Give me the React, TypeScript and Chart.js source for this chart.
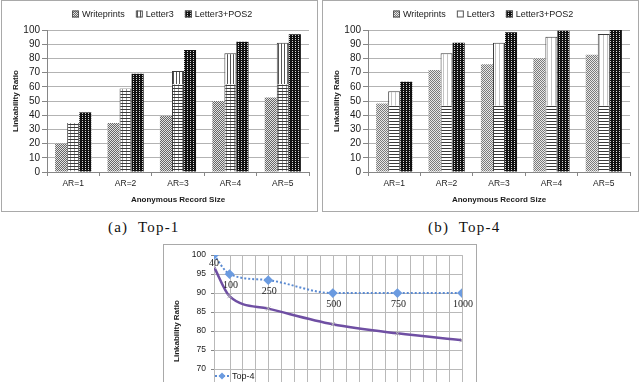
import React, { useEffect, useRef } from "react";
import { Chart, registerables } from "chart.js";
Chart.register(...registerables);

// ---------- data ----------
const categories = ["AR=1", "AR=2", "AR=3", "AR=4", "AR=5"];
const seriesNames = ["Writeprints", "Letter3", "Letter3+POS2"];

const top1Writeprints = [20, 34.5, 39.5, 50, 52.5];
const top1Letter3 = [34.5, 58.8, 71.2, 83.6, 91.1];
const top1Letter3Pos2 = [42, 69.2, 86, 91.8, 97];
const top1Letter3ShadeLevel = 61.8;

const top4Writeprints = [48.2, 71.9, 75.9, 80.1, 82.6];
const top4Letter3 = [56.9, 83.6, 91.1, 95.3, 97.2];
const top4Letter3Pos2 = [63.5, 91.1, 98.4, 99.5, 100];
const top4Letter3ShadeLevel = 46.6;

const recordSizes = [40, 100, 250, 500, 750, 1000];
const top4Line = [100, 95, 93.4, 90, 90, 90];
const top1Line = [96.9, 89.2, 85.9, 81.8, 79.4, 77.6];
const lineNames = ["Top-4", "Top-1"];
const xGridValues = [40, 100, 150, 200, 250, 300, 350, 400, 450, 500, 550, 600, 650, 700, 750, 800, 850, 900, 950, 1000];

const SANS = '"Liberation Sans", Arial, sans-serif';

type Ctx = CanvasRenderingContext2D;

function makePattern(ctx: Ctx, w: number, h: number, draw: (t: Ctx) => void) {
  const c = document.createElement("canvas");
  c.width = w;
  c.height = h;
  const t = c.getContext("2d")!;
  draw(t);
  return ctx.createPattern(c, "repeat")!;
}

function px(t: Ctx, x: number, y: number, color: string) {
  t.fillStyle = color;
  t.fillRect(x, y, 1, 1);
}

function buildPatterns(ctx: Ctx, variant: "a" | "b") {
  const writeprints = makePattern(ctx, 4, 4, (t) => {
    t.fillStyle = variant === "a" ? "#e2e2e2" : "#e8e8e8";
    t.fillRect(0, 0, 4, 4);
    for (let y = 0; y < 4; y++)
      for (let x = 0; x < 4; x++)
        if ((x + y) % 2 === 0) px(t, x, y, variant === "a" ? "#666" : "#7a7a7a");
  });
  const lower = makePattern(ctx, 4, 3, (t) => {
    t.fillStyle = "#fff";
    t.fillRect(0, 0, 4, 3);
    if (variant === "a") {
      t.fillStyle = "#9a9a9a";
      t.fillRect(0, 0, 1, 3);
    }
    t.fillStyle = "#3a3a3a";
    t.fillRect(0, 0, 4, 1);
  });
  const upper = makePattern(ctx, variant === "a" ? 3 : 4, 1, (t) => {
    t.fillStyle = "#fff";
    t.fillRect(0, 0, 4, 1);
    t.fillStyle = variant === "a" ? "#555" : "#c4c4c4";
    t.fillRect(0, 0, 1, 1);
  });
  const pos2 = makePattern(ctx, 3, 2, (t) => {
    t.fillStyle = "#111";
    t.fillRect(0, 0, 3, 2);
    px(t, 2, 0, "#d8d8d8");
  });
  const legendLetter3 =
    variant === "a"
      ? upper
      : makePattern(ctx, 1, 1, (t) => {
          t.fillStyle = "#fff";
          t.fillRect(0, 0, 1, 1);
        });
  return { writeprints, lower, upper, pos2, legendLetter3 };
}

function barLegendPlugin(fills: (CanvasPattern | string)[], centerX: number, y: number) {
  return {
    id: "barLegend",
    afterDraw(chart: any) {
      const ctx: Ctx = chart.ctx;
      ctx.save();
      ctx.font = `9px ${SANS}`;
      ctx.textBaseline = "middle";
      const widths = seriesNames.map((s) => ctx.measureText(s).width);
      const box = 7;
      const gapText = 3;
      const gapItem = 11;
      const total = widths.reduce((a, w) => a + box + gapText + w, 0) + gapItem * (seriesNames.length - 1);
      let x = Math.round(centerX - total / 2);
      seriesNames.forEach((name, i) => {
        ctx.fillStyle = fills[i];
        ctx.fillRect(x, y - box / 2, box, box);
        ctx.strokeStyle = "#555";
        ctx.lineWidth = 1;
        ctx.strokeRect(x + 0.5, y - box / 2 + 0.5, box - 1, box - 1);
        ctx.fillStyle = "#1a1a1a";
        ctx.fillText(name, x + box + gapText, y + 0.5);
        x += box + gapText + widths[i] + gapItem;
      });
      ctx.restore();
    },
  };
}

function makeBarChart(
  canvas: HTMLCanvasElement,
  variant: "a" | "b",
  w: number[],
  l3: number[],
  p2: number[],
  shade: number
) {
  const ctx = canvas.getContext("2d")!;
  const p = buildPatterns(ctx, variant);
  const l3Lower = l3.map((v) => Math.min(v, shade));
  const l3Upper = l3.map((v, i) => v - l3Lower[i]);
  return new Chart(canvas, {
    type: "bar",
    data: {
      labels: categories,
      datasets: [
        { label: seriesNames[0], data: w, stack: "s1", backgroundColor: p.writeprints, borderWidth: 0 },
        {
          label: seriesNames[1] + " (lower)",
          data: l3Lower,
          stack: "s2",
          backgroundColor: p.lower,
          borderColor: "#3a3a3a",
          borderWidth: { left: 1, right: 1, top: 0, bottom: 0 },
        },
        {
          label: seriesNames[1],
          data: l3Upper,
          stack: "s2",
          backgroundColor: p.upper,
          borderColor: "#3a3a3a",
          borderWidth: { left: 1, right: 1, top: 1, bottom: 0 },
        },
        { label: seriesNames[2], data: p2, stack: "s3", backgroundColor: p.pos2, borderWidth: 0 },
      ],
    },
    options: {
      responsive: false,
      animation: false,
      devicePixelRatio: 1,
      events: [],
      categoryPercentage: 0.69,
      barPercentage: 1.0,
      layout: { padding: { top: 29, right: 8, left: 0, bottom: 0 } },
      plugins: { legend: { display: false }, tooltip: { enabled: false }, title: { display: false } },
      scales: {
        x: {
          stacked: true,
          afterFit: (s: any) => {
            s.height = 39;
          },
          grid: {
            display: true,
            drawOnChartArea: false,
            offset: true,
            tickLength: 4,
            tickColor: "#868686",
          },
          border: { color: "#868686" },
          ticks: { font: { family: SANS, size: 8.5 }, color: "#1a1a1a", padding: 3, maxRotation: 0, autoSkip: false },
          title: {
            display: true,
            text: "Anonymous Record Size",
            font: { family: SANS, size: 8, weight: "bold" },
            color: "#1a1a1a",
            padding: { top: 0, bottom: 6 },
          },
        },
        y: {
          stacked: true,
          min: 0,
          max: 100,
          afterFit: (s: any) => {
            s.width = 45;
          },
          ticks: { stepSize: 10, autoSkip: false, font: { family: SANS, size: 10 }, color: "#1a1a1a", padding: 2 },
          grid: { color: "#b3b3b3", tickColor: "#868686", tickLength: 5 },
          border: { color: "#868686" },
          title: {
            display: true,
            text: "Linkability Ratio",
            font: { family: SANS, size: 8, weight: "bold" },
            color: "#1a1a1a",
            padding: { top: 9, bottom: 0 },
          },
        },
      },
    },
    plugins: [barLegendPlugin([p.writeprints, p.legendLetter3, p.pos2], 160, 13)],
  } as any);
}

const lineLabelPlugin = {
  id: "lineLabels",
  afterDatasetsDraw(chart: any) {
    const ctx: Ctx = chart.ctx;
    const meta = chart.getDatasetMeta(0);
    ctx.save();
    ctx.font = '10px "Liberation Serif", serif';
    ctx.fillStyle = "#222";
    ctx.textAlign = "center";
    ctx.textBaseline = "middle";
    meta.data.forEach((pt: any, i: number) => {
      ctx.fillText(String(recordSizes[i]), pt.x + (i === 0 ? 0 : 1), pt.y + (i === 0 ? 8 : 11));
    });
    ctx.restore();
  },
};

const lineLegendPlugin = {
  id: "lineLegend",
  afterDraw(chart: any) {
    const ctx: Ctx = chart.ctx;
    ctx.save();
    ctx.font = `9px ${SANS}`;
    ctx.textBaseline = "middle";
    const x0 = 51;
    const rows = [131, 145];
    lineNames.forEach((name, i) => {
      const y = rows[i];
      const ds = chart.data.datasets[i];
      ctx.strokeStyle = ds.borderColor;
      ctx.lineWidth = ds.borderWidth;
      ctx.setLineDash(ds.borderDash || []);
      ctx.beginPath();
      ctx.moveTo(x0, y);
      ctx.lineTo(x0 + 14, y);
      ctx.stroke();
      ctx.setLineDash([]);
      const cx = x0 + 7;
      if (i === 0) {
        ctx.fillStyle = ds.pointBackgroundColor;
        ctx.beginPath();
        ctx.moveTo(cx, y - 3.5);
        ctx.lineTo(cx + 3.5, y);
        ctx.lineTo(cx, y + 3.5);
        ctx.lineTo(cx - 3.5, y);
        ctx.closePath();
        ctx.fill();
      } else {
        ctx.strokeStyle = ds.pointBorderColor;
        ctx.lineWidth = 1;
        ctx.beginPath();
        ctx.moveTo(cx - 3, y - 3);
        ctx.lineTo(cx + 3, y + 3);
        ctx.moveTo(cx + 3, y - 3);
        ctx.lineTo(cx - 3, y + 3);
        ctx.stroke();
      }
      ctx.fillStyle = "#1a1a1a";
      ctx.fillText(name, x0 + 17, y + 0.5);
    });
    ctx.restore();
  },
};

const verticalGridPlugin = {
  id: "verticalGrid",
  beforeDatasetsDraw(chart: any) {
    const ctx: Ctx = chart.ctx;
    const xs = chart.scales.x;
    const area = chart.chartArea;
    ctx.save();
    ctx.strokeStyle = "#b9b9b9";
    ctx.lineWidth = 1;
    ctx.beginPath();
    xGridValues.forEach((v) => {
      const x = Math.round(xs.getPixelForValue(v)) + 0.5;
      ctx.moveTo(x, area.top);
      ctx.lineTo(x, area.bottom);
    });
    ctx.stroke();
    ctx.restore();
  },
};

function makeLineChart(canvas: HTMLCanvasElement) {
  return new Chart(canvas, {
    type: "line",
    data: {
      datasets: [
        {
          label: lineNames[0],
          data: recordSizes.map((x, i) => ({ x, y: top4Line[i] })),
          borderColor: "#5a8ad2",
          borderWidth: 2,
          borderDash: [2, 2],
          pointStyle: "rectRot",
          pointRadius: 3.5,
          pointBackgroundColor: "#6b9be0",
          pointBorderColor: "#6b9be0",
          cubicInterpolationMode: "monotone",
        },
        {
          label: lineNames[1],
          data: recordSizes.map((x, i) => ({ x, y: top1Line[i] })),
          borderColor: "#6f4fa3",
          borderWidth: 2.5,
          pointStyle: "crossRot",
          pointRadius: 3,
          pointBorderColor: "#b4b4b4",
          pointBorderWidth: 1,
          cubicInterpolationMode: "monotone",
        },
      ],
    },
    options: {
      responsive: false,
      animation: false,
      devicePixelRatio: 1,
      events: [],
      layout: { padding: { top: 8, right: 14, left: 0, bottom: 0 } },
      plugins: { legend: { display: false }, tooltip: { enabled: false } },
      scales: {
        x: {
          type: "linear",
          min: 40,
          max: 1000,
          afterFit: (s: any) => {
            s.height = 11;
          },
          ticks: { display: false },
          grid: { display: false },
          border: { display: false },
        },
        y: {
          min: 60,
          max: 100,
          afterFit: (s: any) => {
            s.width = 50;
          },
          ticks: { stepSize: 5, autoSkip: false, font: { family: SANS, size: 8.5 }, color: "#1a1a1a", padding: 5 },
          grid: { color: "#b9b9b9", tickColor: "#868686", tickLength: 3 },
          border: { color: "#868686" },
          title: {
            display: true,
            text: "Linkability Ratio",
            font: { family: SANS, size: 8, weight: "bold" },
            color: "#1a1a1a",
            padding: { top: 8, bottom: 0 },
          },
        },
      },
    },
    plugins: [verticalGridPlugin, lineLabelPlugin, lineLegendPlugin],
  } as any);
}

export default function App() {
  const aRef = useRef<HTMLCanvasElement>(null);
  const bRef = useRef<HTMLCanvasElement>(null);
  const cRef = useRef<HTMLCanvasElement>(null);

  useEffect(() => {
    const charts = [
      makeBarChart(aRef.current!, "a", top1Writeprints, top1Letter3, top1Letter3Pos2, top1Letter3ShadeLevel),
      makeBarChart(bRef.current!, "b", top4Writeprints, top4Letter3, top4Letter3Pos2, top4Letter3ShadeLevel),
      makeLineChart(cRef.current!),
    ];
    return () => charts.forEach((c) => c.destroy());
  }, []);

  const panel = (left: number, top: number, width: number, height: number): React.CSSProperties => ({
    position: "absolute",
    left,
    top,
    width,
    height,
    border: "1px solid #a9a9a9",
    boxSizing: "border-box",
    background: "#fff",
  });
  const caption = (left: number): React.CSSProperties => ({
    position: "absolute",
    left,
    top: 218,
    font: '15px "Liberation Serif", serif',
    letterSpacing: 1.2,
    wordSpacing: 5,
    whiteSpace: "nowrap",
    color: "#111",
    lineHeight: "18px",
  });

  return (
    <div style={{ position: "fixed", left: 0, top: 0, width: 640, height: 382, overflow: "hidden", background: "#fff" }}>
      <div style={panel(1, 0, 317, 212)}>
        <canvas ref={aRef} width={315} height={210} style={{ display: "block" }} />
      </div>
      <div style={panel(322, 0, 317, 212)}>
        <canvas ref={bRef} width={315} height={210} style={{ display: "block" }} />
      </div>
      <div style={caption(108)}>(a) Top-1</div>
      <div style={caption(428)}>(b) Top-4</div>
      <div style={panel(163, 244, 314, 175)}>
        <canvas ref={cRef} width={312} height={173} style={{ display: "block" }} />
      </div>
    </div>
  );
}
